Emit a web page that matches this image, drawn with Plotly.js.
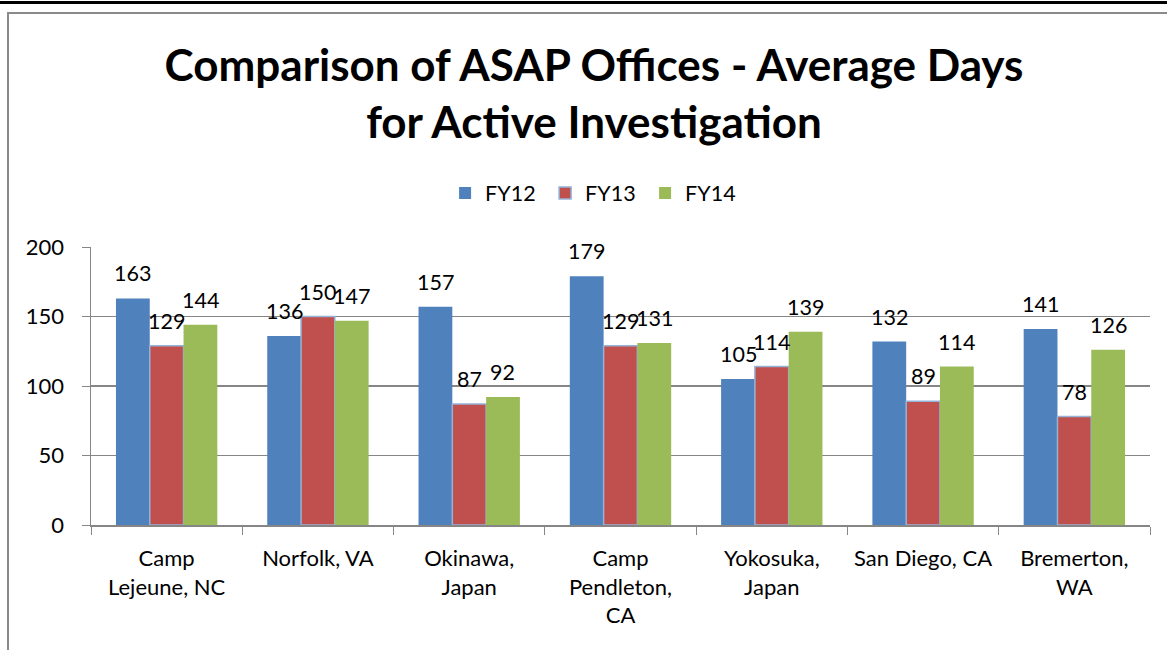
<!DOCTYPE html>
<html>
<head>
<meta charset="utf-8">
<script src="https://cdn.plot.ly/plotly-3.0.1.min.js"></script>
<style>
  html, body { margin: 0; padding: 0; background: #fff; }
  #chart { width: 1167px; height: 650px; position: relative; }
  .topline { position: absolute; left: 0; top: 1px; width: 1167px; height: 3px; background: #000; z-index: 5; }
  .frameTop { position: absolute; left: 7px; top: 12px; width: 1160px; height: 2px; background: #8a8a8a; z-index: 5; }
  .frameLeft { position: absolute; left: 7px; top: 12px; width: 2px; height: 638px; background: #8a8a8a; z-index: 5; }
</style>
</head>
<body>
<div id="chart"></div>
<div class="topline"></div>
<div class="frameTop"></div>
<div class="frameLeft"></div>
<script>
const categories = ["Camp<br>Lejeune, NC", "Norfolk, VA", "Okinawa,<br>Japan", "Camp<br>Pendleton,<br>CA", "Yokosuka,<br>Japan", "San Diego, CA", "Bremerton,<br>WA"];
const fy12 = [163, 136, 157, 179, 105, 132, 141];
const fy13 = [129, 150, 87, 129, 114, 89, 78];
const fy14 = [144, 147, 92, 131, 139, 114, 126];
const seriesNames = ["FY12", "FY13", "FY14"];
const yTicks = [0, 50, 100, 150, 200];

const font = "Lato, 'Open Sans', sans-serif";
const series = [
  { name: seriesNames[0], vals: fy12, color: "#4f81bd", line: "#4f81bd", lw: 0 },
  { name: seriesNames[1], vals: fy13, color: "#c0504d", line: "#95b3d7", lw: 1.5 },
  { name: seriesNames[2], vals: fy14, color: "#9bbb59", line: "#9bbb59", lw: 0 }
];
const data = series.map(s => ({
  type: "bar", name: s.name, x: categories, y: s.vals,
  marker: { color: s.color, line: { color: s.line, width: s.lw } },
  hoverinfo: "skip"
}));

// data labels: placed through the axes, shifted to each bar of the group
const bargap = 0.33;
const plotW = 1167 - 91 - 17;
const catW = plotW / categories.length;
const barW = catW * (1 - bargap) / series.length;
const annotations = [];
series.forEach((s, si) => {
  const xs = (si - (series.length - 1) / 2) * barW;
  s.vals.forEach((v, ci) => {
    annotations.push({
      x: categories[ci], y: v, xref: "x", yref: "y", xshift: xs, yshift: 25,
      text: String(v), showarrow: false, xanchor: "center", yanchor: "middle",
      font: { family: font, size: 21.5, color: "#000" }
    });
  });
});

const layout = {
  width: 1167, height: 650,
  margin: { l: 91, r: 17, t: 247, b: 125 },
  paper_bgcolor: "#fff", plot_bgcolor: "#fff",
  title: {
    text: "<b>Comparison of ASAP Offices - Average Days<br>for Active Investigation</b>",
    font: { family: font, size: 44, color: "#000" },
    x: 0.509, xanchor: "center", yref: "container", y: 0.875, yanchor: "middle"
  },
  barmode: "group", bargap: bargap, bargroupgap: 0,
  showlegend: true,
  legend: {
    orientation: "h", x: 0.476, xanchor: "center", y: 1.194, yanchor: "middle",
    font: { family: font, size: 21.5, color: "#000" }, itemwidth: 30,
    entrywidth: 55, entrywidthmode: "pixels"
  },
  annotations: annotations,
  xaxis: {
    type: "category", tickson: "boundaries", ticks: "outside", ticklen: 8,
    tickcolor: "#868686", showline: true, linecolor: "#868686", linewidth: 1.5,
    tickfont: { family: font, size: 22, color: "#000" }, showgrid: false,
    ticklabelstandoff: 13
  },
  yaxis: {
    range: [0, 200], tickvals: yTicks, ticks: "outside", ticklen: 8, tickcolor: "#868686",
    showline: true, linecolor: "#868686", linewidth: 1.5,
    gridcolor: "#868686", gridwidth: 1.5, zeroline: false,
    tickfont: { family: font, size: 22, color: "#000" }, ticklabelstandoff: 13
  }
};
Plotly.newPlot("chart", data, layout, { displayModeBar: false, staticPlot: true });
</script>
</body>
</html>
